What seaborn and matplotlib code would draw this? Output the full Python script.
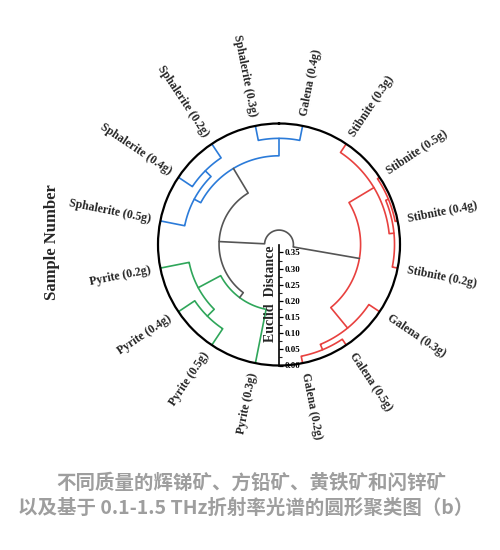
import numpy as np
import pandas as pd
import matplotlib
matplotlib.use("Agg")
import matplotlib.pyplot as plt
import seaborn as sns

# ---------------- data ----------------
leaf_labels = [
    "Pyrite (0.3g)", "Pyrite (0.5g)", "Pyrite (0.4g)", "Pyrite (0.2g)",
    "Sphalerite (0.5g)", "Sphalerite (0.4g)", "Sphalerite (0.2g)", "Sphalerite (0.3g)",
    "Galena (0.4g)", "Stibnite (0.3g)", "Stibnite (0.5g)", "Stibnite (0.4g)",
    "Stibnite (0.2g)", "Galena (0.3g)", "Galena (0.5g)", "Galena (0.2g)",
]
# linkage (node id = 16 + row index)
link_left = [10, 16, 14, 9, 13, 7, 5, 1, 4, 23, 24, 19, 0, 28, 29]
link_right = [11, 12, 15, 17, 18, 8, 6, 2, 22, 3, 21, 20, 25, 26, 27]
link_height = [0.008, 0.017, 0.022, 0.032, 0.040, 0.046, 0.052, 0.061,
               0.077, 0.091, 0.100, 0.122, 0.170, 0.189, 0.330]
link_group = ["red", "red", "red", "red", "red", "blue", "blue", "green",
              "blue", "green", "blue", "red", "green", "grey", "grey"]
dist_ticks = [0.00, 0.05, 0.10, 0.15, 0.20, 0.25, 0.30, 0.35]

palette = {"red": "#e8413f", "blue": "#2b7bd9", "green": "#2fa65a", "grey": "#555555"}
DMAX = 0.3746

# ---------------- layout of dendrogram ----------------
n = len(leaf_labels)
start_deg = -168.75
pos = {i: np.deg2rad(start_deg + i * 360.0 / n) for i in range(n)}
hgt = {i: 0.0 for i in range(n)}
rows = []
for k, (l, r, h, g) in enumerate(zip(link_left, link_right, link_height, link_group)):
    node = n + k
    pos[node] = (pos[l] + pos[r]) / 2
    hgt[node] = h
    arc = np.linspace(pos[l], pos[r], 80)
    th = np.concatenate([[pos[l], pos[l]], arc, [pos[r], pos[r]]])
    dd = np.concatenate([[hgt[l], h], np.full(arc.size, h), [h, hgt[r]]])
    for t_, d_ in zip(th, dd):
        rows.append({"theta": t_, "d": d_, "link": k, "group": g})
df = pd.DataFrame(rows)

# ---------------- figure ----------------
sns.set_theme(style="white")
plt.rcParams["font.family"] = ["Liberation Serif", "DejaVu Sans"]

W, H = 500, 550
fig = plt.figure(figsize=(5, 5.5), dpi=100)
fig.patch.set_facecolor("white")

cx, cy, R = 279, 244.5, 121
ax = fig.add_axes([(cx - R) / W, (H - cy - R) / H, 2 * R / W, 2 * R / H], projection="polar")
ax.set_theta_zero_location("N")
ax.set_theta_direction(-1)
sns.lineplot(data=df, x="theta", y="d", hue="group", units="link", estimator=None,
             sort=False, palette=palette, legend=False, ax=ax, linewidth=1.2)
ax.set_ylim(DMAX, 0)
ax.grid(False)
ax.set_xticks([])
ax.set_yticks([])
ax.set_xlabel("")
ax.set_ylabel("")
ax.set_facecolor("none")
ax.spines["polar"].set_color("black")
ax.spines["polar"].set_linewidth(1.6)

for i, lab in enumerate(leaf_labels):
    ang = start_deg + i * 360.0 / n
    if 0 < ang < 180:
        rot, ha = 90 - ang, "left"
    else:
        rot, ha = -90 - ang, "right"
    ax.text(np.deg2rad(ang), -0.031, lab, rotation=rot, rotation_mode="anchor",
            ha=ha, va="center", fontsize=8.5, fontweight="bold",
            family="Liberation Serif", clip_on=False)

# distance axis
ax2 = fig.add_axes([cx / W, (H - cy - R) / H, 0.0005, R / H])
ax2.set_ylim(0, DMAX)
ax2.set_facecolor("none")
for s in ["top", "bottom", "left"]:
    ax2.spines[s].set_visible(False)
ax2.spines["right"].set_visible(True)
ax2.spines["right"].set_color("black")
ax2.spines["right"].set_linewidth(1.2)
ax2.yaxis.tick_right()
ax2.set_xticks([])
ax2.set_yticks(dist_ticks)
ax2.set_yticklabels([f"{v:.2f}" for v in dist_ticks])
ax2.set_yticks(np.arange(0.025, 0.36, 0.05), minor=True)
ax2.tick_params(axis="y", which="major", direction="out", length=3, width=0.9,
                pad=1, labelsize=6.5, colors="black")
ax2.tick_params(axis="y", which="minor", direction="out", length=2, width=0.8, right=True)
for t in ax2.get_yticklabels():
    t.set_fontweight("bold")
    t.set_family("Liberation Serif")

fig.text(270 / W, 1 - 294 / H, "Euclid  Distance", rotation=90, ha="center", va="center",
         fontsize=10, fontweight="bold", family="Liberation Serif")
fig.text(52 / W, 1 - 242 / H, "Sample Number", rotation=90, ha="center", va="center",
         fontsize=12, fontweight="bold", family="Liberation Serif")

cap_font = ["Noto Sans CJK SC", "DejaVu Sans"]
fig.text(251 / W, 1 - 483 / H, "不同质量的辉锑矿、方铅矿、黄铁矿和闪锌矿", ha="center", va="center",
         fontsize=14, fontweight="bold", color="#9e9e9e", family=cap_font)
fig.text(246 / W, 1 - 508 / H, "以及基于 0.1-1.5 THz折射率光谱的圆形聚类图（b）", ha="center",
         va="center", fontsize=14, fontweight="bold", color="#9e9e9e", family=cap_font)

fig.savefig("out.png", dpi=100, facecolor="white")
